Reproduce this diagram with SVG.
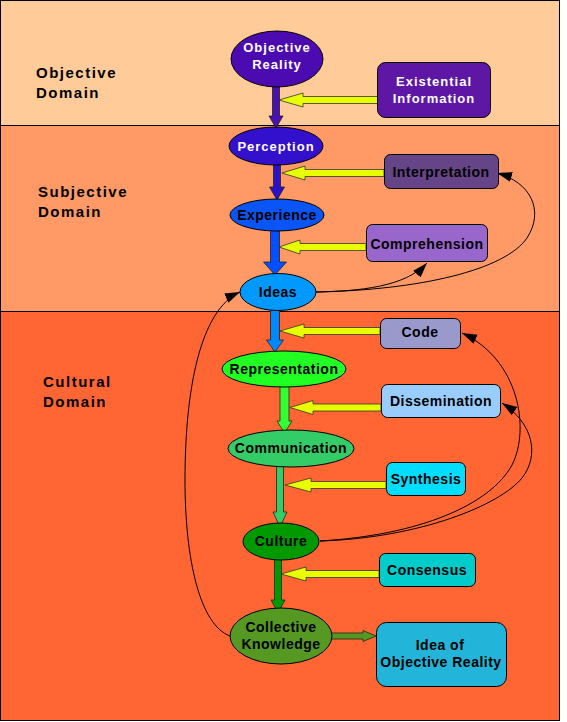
<svg xmlns="http://www.w3.org/2000/svg" width="567" height="722" viewBox="0 0 567 722">
<style>
text{font-family:"Liberation Sans",Arial,sans-serif;font-weight:bold;text-anchor:middle}
.lbl{font-size:15px;letter-spacing:1.5px;text-anchor:start;fill:#000}
.dk{font-size:14px;letter-spacing:0.5px;fill:#000}
.wt{font-size:13px;letter-spacing:1px;fill:#fff}
.node{stroke:#000;stroke-width:1}
.ya{fill:#e8ff00;stroke:#333;stroke-width:0.8}
.fa{stroke:#222;stroke-width:0.8}
.thin{fill:none;stroke:#000;stroke-width:1;marker-end:url(#ah)}
</style>
<defs>
<marker id="ah" markerUnits="userSpaceOnUse" markerWidth="16" markerHeight="12" refX="15" refY="5" orient="auto">
<path d="M0,0 L15,5 L0,10 z" fill="#000"/>
</marker>
</defs>
<g id="background">
<rect x="0" y="0" width="567" height="722" fill="#fff"/>
<rect x="0.5" y="0.5" width="559" height="125" fill="#ffcc99"/>
<rect x="0.5" y="125.5" width="559" height="186" fill="#ff9966"/>
<rect x="0.5" y="311.5" width="559" height="409" fill="#ff6633"/>
<line x1="0" y1="125.5" x2="560" y2="125.5" stroke="#000"/>
<line x1="0" y1="311.5" x2="560" y2="311.5" stroke="#000"/>
<rect x="0.5" y="0.5" width="559" height="720" fill="none" stroke="#000"/>
<text class="lbl" x="36" y="78">Objective</text>
<text class="lbl" x="36" y="98">Domain</text>
<text class="lbl" x="38" y="197">Subjective</text>
<text class="lbl" x="38" y="217">Domain</text>
<text class="lbl" x="43" y="387">Cultural</text>
<text class="lbl" x="43" y="407">Domain</text>
</g>
<g id="connectors">
<polygon class="ya" points="378,96.5 303,96.5 303,93 279,100 303,107 303,103.5 378,103.5"/>
<polygon class="ya" points="384,169.5 305,169.5 305,166 282,173 305,180 305,176.5 384,176.5"/>
<polygon class="ya" points="366,243.5 300,243.5 300,240 279,247 300,254 300,250.5 366,250.5"/>
<polygon class="ya" points="380,327.5 304,327.5 304,324 280,331 304,338 304,334.5 380,334.5"/>
<polygon class="ya" points="381,404 313,404 313,400.5 290,407.5 313,414.5 313,411 381,411"/>
<polygon class="ya" points="386,481.5 311,481.5 311,478 285,485 311,492 311,488.5 386,488.5"/>
<polygon class="ya" points="379,570.5 306,570.5 306,567 281,574 306,581 306,577.5 379,577.5"/>
<polygon class="fa" fill="#4a10b0" points="272.5,86 279.5,86 279.5,116 283,116 276,128 269,116 272.5,116"/>
<polygon class="fa" fill="#2c11c8" points="273.5,164 280.5,164 280.5,187 284.5,187 277,200 269.5,187 273.5,187"/>
<polygon class="fa" fill="#0050ff" points="270.5,230 279.5,230 279.5,262 286.5,262 275,275 263.5,262 270.5,262"/>
<polygon class="fa" fill="#0088ff" points="270.5,309 279.5,309 279.5,340 283.5,340 275,352 266.5,340 270.5,340"/>
<polygon class="fa" fill="#33ff33" points="280,386 289,386 289,421 292,421 284.5,433 277,421 280,421"/>
<polygon class="fa" fill="#33cc66" points="276.5,466 283.5,466 283.5,512 287,512 280,527 273,512 276.5,512"/>
<polygon class="fa" fill="#009900" points="274.5,559 281.5,559 281.5,600 285,600 278,613 271,600 274.5,600"/>
<polygon class="fa" fill="#559922" points="331,633 363,633 363,630.5 376,636 363,641.5 363,639 331,639"/>
<path class="thin" d="M316,292 C420,290 505,270 527,238 C545,210 530,182 497,173"/>
<path class="thin" d="M316,292 C360,291 405,287 427,263"/>
<path class="thin" d="M320,541 C420,535 490,505 512,465 C530,430 520,360 462,333"/>
<path class="thin" d="M320,541 C420,538 500,505 522,478 C540,455 533,423 502,403"/>
<path class="thin" d="M230,636 C200,625 185,560 185,480 C185,390 200,310 240,292"/>
</g>
<g id="objective-reality">
<ellipse class="node" cx="277" cy="59" rx="46" ry="28" fill="#4c0bb0"/>
<text class="wt" x="277" y="52">Objective</text>
<text class="wt" x="277" y="69">Reality</text>
</g>
<g id="existential-information">
<rect class="node" x="377.5" y="62.5" width="113" height="55" rx="8" fill="#5e16a4"/>
<text class="wt" x="434" y="86">Existential</text>
<text class="wt" x="434" y="103">Information</text>
</g>
<g id="perception">
<ellipse class="node" cx="276" cy="146" rx="47" ry="19" fill="#3311cc"/>
<text class="wt" x="276" y="151">Perception</text>
</g>
<g id="interpretation">
<rect class="node" x="384.5" y="154.5" width="114" height="34" rx="6" fill="#664488"/>
<text class="dk" x="441" y="177">Interpretation</text>
</g>
<g id="experience">
<ellipse class="node" cx="277" cy="215" rx="47" ry="16" fill="#0a55f5"/>
<text class="dk" x="277" y="220">Experience</text>
</g>
<g id="comprehension">
<rect class="node" x="366.5" y="224.5" width="121" height="37" rx="6" fill="#9966cc"/>
<text class="dk" x="427" y="249">Comprehension</text>
</g>
<g id="ideas">
<ellipse class="node" cx="278" cy="292" rx="38" ry="18.5" fill="#0099ff"/>
<text class="dk" x="278" y="297">Ideas</text>
</g>
<g id="code">
<rect class="node" x="380.5" y="318.5" width="80" height="30" rx="6" fill="#9999cc"/>
<text class="dk" x="420" y="337">Code</text>
</g>
<g id="representation">
<ellipse class="node" cx="284" cy="369" rx="62" ry="18" fill="#22ff22"/>
<text class="dk" x="284" y="374">Representation</text>
</g>
<g id="dissemination">
<rect class="node" x="381.5" y="384.5" width="119" height="33" rx="6" fill="#99ccff"/>
<text class="dk" x="441" y="406">Dissemination</text>
</g>
<g id="communication">
<ellipse class="node" cx="291" cy="448.5" rx="63" ry="18.5" fill="#33cc66"/>
<text class="dk" x="291" y="453">Communication</text>
</g>
<g id="synthesis">
<rect class="node" x="386.5" y="462.5" width="79" height="33" rx="6" fill="#00ddff"/>
<text class="dk" x="426" y="484">Synthesis</text>
</g>
<g id="culture">
<ellipse class="node" cx="281" cy="541.5" rx="38" ry="18.5" fill="#009900"/>
<text class="dk" x="281" y="546">Culture</text>
</g>
<g id="consensus">
<rect class="node" x="379.5" y="553.5" width="96" height="33" rx="6" fill="#00cccc"/>
<text class="dk" x="427" y="575">Consensus</text>
</g>
<g id="collective-knowledge">
<ellipse class="node" cx="281" cy="636" rx="51" ry="28" fill="#559922"/>
<text class="dk" x="281" y="632">Collective</text>
<text class="dk" x="281" y="649">Knowledge</text>
</g>
<g id="idea-of-objective-reality">
<rect class="node" x="376.5" y="622.5" width="130" height="64" rx="10" fill="#22b5d9"/>
<text class="dk" x="440" y="650">Idea of</text>
<text class="dk" x="441" y="667">Objective Reality</text>
</g>
</svg>
